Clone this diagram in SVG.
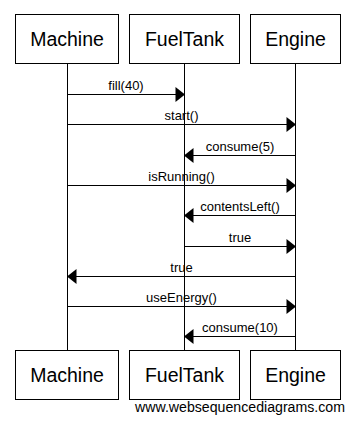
<svg xmlns="http://www.w3.org/2000/svg" width="355" height="424" viewBox="0 0 355 424">
  <style>
    .box { fill: #ffffff; stroke: #000000; stroke-width: 1; }
    .life { stroke: #000000; stroke-width: 1; }
    .msg { stroke: #000000; stroke-width: 1; fill: none; }
    .head { fill: #000000; }
    .name { font-family: "Liberation Sans", Arial, sans-serif; font-size: 19.5px; fill: #000000; text-anchor: middle; }
    .label { font-family: "Liberation Sans", Arial, sans-serif; font-size: 13px; fill: #000000; text-anchor: middle; }
    .mark { font-family: "Liberation Sans", Arial, sans-serif; font-size: 14px; fill: #000000; }
  </style>
  <rect width="355" height="424" fill="#ffffff"/>

  <!-- lifelines -->
  <g id="lifelines">
    <line class="life" x1="67.5" y1="63.5" x2="67.5" y2="350.5"/>
    <line class="life" x1="184.5" y1="63.5" x2="184.5" y2="350.5"/>
    <line class="life" x1="295.5" y1="63.5" x2="295.5" y2="350.5"/>
  </g>

  <!-- participants -->
  <g id="machine">
    <rect class="box" x="15.5" y="14.5" width="103" height="49"/>
    <text class="name" x="67" y="46">Machine</text>
    <rect class="box" x="15.5" y="350.5" width="103" height="49"/>
    <text class="name" x="67" y="382">Machine</text>
  </g>
  <g id="fueltank">
    <rect class="box" x="129.5" y="14.5" width="110" height="49"/>
    <text class="name" x="184.5" y="46">FuelTank</text>
    <rect class="box" x="129.5" y="350.5" width="110" height="49"/>
    <text class="name" x="184.5" y="382">FuelTank</text>
  </g>
  <g id="engine">
    <rect class="box" x="250.5" y="14.5" width="90" height="49"/>
    <text class="name" x="295.5" y="46">Engine</text>
    <rect class="box" x="250.5" y="350.5" width="90" height="49"/>
    <text class="name" x="295.5" y="382">Engine</text>
  </g>

  <!-- messages -->
  <g id="connectors">
    <line class="msg" x1="67.5" y1="94.5" x2="176" y2="94.5"/>
    <polygon class="head" points="185,94.5 175.5,87 175.5,102"/>
    <text class="label" x="126" y="90">fill(40)</text>

    <line class="msg" x1="67.5" y1="124.5" x2="287" y2="124.5"/>
    <polygon class="head" points="296,124.5 286.5,117 286.5,132"/>
    <text class="label" x="181.5" y="120">start()</text>

    <line class="msg" x1="295.5" y1="155.5" x2="193" y2="155.5"/>
    <polygon class="head" points="184,155.5 193.5,148 193.5,163"/>
    <text class="label" x="240" y="151">consume(5)</text>

    <line class="msg" x1="67.5" y1="185.5" x2="287" y2="185.5"/>
    <polygon class="head" points="296,185.5 286.5,178 286.5,193"/>
    <text class="label" x="181.5" y="181">isRunning()</text>

    <line class="msg" x1="295.5" y1="215.5" x2="193" y2="215.5"/>
    <polygon class="head" points="184,215.5 193.5,208 193.5,223"/>
    <text class="label" x="240" y="211">contentsLeft()</text>

    <line class="msg" x1="184.5" y1="246.5" x2="287" y2="246.5"/>
    <polygon class="head" points="296,246.5 286.5,239 286.5,254"/>
    <text class="label" x="240" y="242">true</text>

    <line class="msg" x1="295.5" y1="276.5" x2="76" y2="276.5"/>
    <polygon class="head" points="67,276.5 76.5,269 76.5,284"/>
    <text class="label" x="181.5" y="272">true</text>

    <line class="msg" x1="67.5" y1="306.5" x2="287" y2="306.5"/>
    <polygon class="head" points="296,306.5 286.5,299 286.5,314"/>
    <text class="label" x="181.5" y="302">useEnergy()</text>

    <line class="msg" x1="295.5" y1="336.5" x2="193" y2="336.5"/>
    <polygon class="head" points="184,336.5 193.5,329 193.5,344"/>
    <text class="label" x="240" y="332">consume(10)</text>
  </g>

  <text class="mark" x="135" y="412" textLength="210" lengthAdjust="spacingAndGlyphs">www.websequencediagrams.com</text>
</svg>
